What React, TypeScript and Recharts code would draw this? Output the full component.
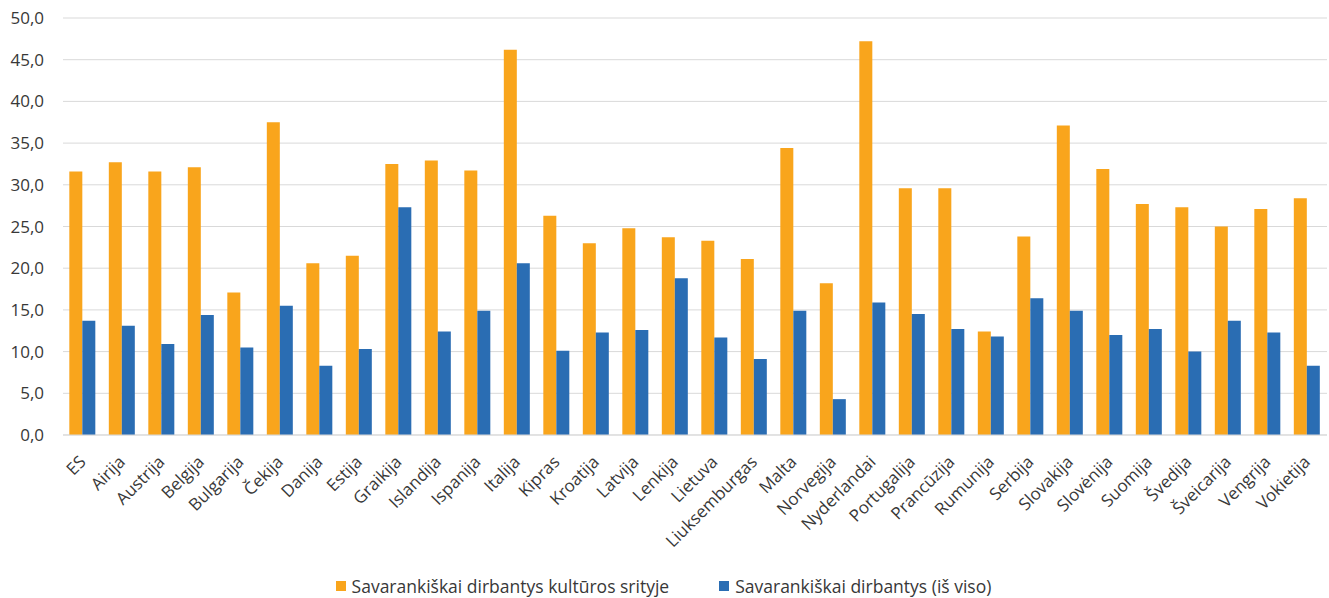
import React from 'react';
import { BarChart, Bar, XAxis, YAxis, CartesianGrid, Legend } from 'recharts';

const categories = [
  'ES', 'Airija', 'Austrija', 'Belgija', 'Bulgarija', 'Čekija', 'Danija', 'Estija',
  'Graikija', 'Islandija', 'Ispanija', 'Italija', 'Kipras', 'Kroatija', 'Latvija', 'Lenkija',
  'Lietuva', 'Liuksemburgas', 'Malta', 'Norvegija', 'Nyderlandai', 'Portugalija', 'Prancūzija', 'Rumunija',
  'Serbija', 'Slovakija', 'Slovėnija', 'Suomija', 'Švedija', 'Šveicarija', 'Vengrija', 'Vokietija',
];

const cultureValues = [
  31.6, 32.7, 31.6, 32.1, 17.1, 37.5, 20.6, 21.5,
  32.5, 32.9, 31.7, 46.2, 26.3, 23.0, 24.8, 23.7,
  23.3, 21.1, 34.4, 18.2, 47.2, 29.6, 29.6, 12.4,
  23.8, 37.1, 31.9, 27.7, 27.3, 25.0, 27.1, 28.4,
];

const totalValues = [
  13.7, 13.1, 10.9, 14.4, 10.5, 15.5, 8.3, 10.3,
  27.3, 12.4, 14.9, 20.6, 10.1, 12.3, 12.6, 18.8,
  11.7, 9.1, 14.9, 4.3, 15.9, 14.5, 12.7, 11.8,
  16.4, 14.9, 12.0, 12.7, 10.0, 13.7, 12.3, 8.3,
];

const yTicks = [0, 5, 10, 15, 20, 25, 30, 35, 40, 45, 50];

const seriesNames = [
  'Savarankiškai dirbantys kultūros srityje',
  'Savarankiškai dirbantys (iš viso)',
];

const data = categories.map((name, i) => ({
  name,
  culture: cultureValues[i],
  total: totalValues[i],
}));

const FONT = '"Open Sans", sans-serif';
const TEXT_COLOR = '#383838';
const ORANGE = '#F9A51C';
const BLUE = '#2A6DB3';

const XTick = (props: any) => {
  const { x, y, payload } = props;
  return (
    <g transform={`translate(${x + 4},${y + 28})`}>
      <text
        x={0}
        y={0}
        textAnchor="end"
        transform="rotate(-45)"
        fontFamily={FONT}
        fontSize={17}
        fill={TEXT_COLOR}
      >
        {payload.value}
      </text>
    </g>
  );
};

const LegendContent = (props: any) => {
  const payload = [...(props.payload || [])].sort(
    (a: any, b: any) => seriesNames.indexOf(a.value) - seriesNames.indexOf(b.value)
  );
  return (
    <div
      style={{
        display: 'flex',
        justifyContent: 'center',
        alignItems: 'center',
        gap: 50,
        height: 24,
        fontFamily: FONT,
        fontSize: 17.5,
        color: TEXT_COLOR,
      }}
    >
      {payload.map((entry: any) => (
        <span key={entry.value} style={{ display: 'flex', alignItems: 'center' }}>
          <span
            style={{
              display: 'inline-block',
              width: 10,
              height: 10,
              background: entry.color,
              marginRight: 6,
            }}
          />
          {entry.value}
        </span>
      ))}
    </div>
  );
};

export default function App() {
  return (
    <div style={{ position: 'absolute', left: 0, top: 0, width: 1329, height: 598, background: '#fff' }}>
      <BarChart
        width={1329}
        height={598}
        data={data}
        margin={{ top: 18, right: 2, left: 0, bottom: 0 }}
        barCategoryGap="16%"
        barGap={0}
      >
        <CartesianGrid vertical={false} stroke="#d9d9d9" strokeWidth={1} />
        <XAxis
          dataKey="name"
          interval={0}
          height={139}
          tickLine={false}
          tickSize={0}
          tickMargin={0}
          axisLine={{ stroke: '#d9d9d9', strokeWidth: 1 }}
          tick={<XTick />}
        />
        <YAxis
          width={63}
          domain={[0, 50]}
          ticks={yTicks}
          interval={0}
          axisLine={false}
          tickLine={false}
          tickSize={0}
          tickMargin={19}
          tick={{ fontFamily: FONT, fontSize: 17, fill: TEXT_COLOR }}
          tickFormatter={(v: number) => v.toFixed(1).replace('.', ',')}
        />
        <Legend verticalAlign="bottom" height={24} content={<LegendContent />} />
        <Bar dataKey="culture" name={seriesNames[0]} fill={ORANGE} isAnimationActive={false} />
        <Bar dataKey="total" name={seriesNames[1]} fill={BLUE} isAnimationActive={false} />
      </BarChart>
    </div>
  );
}
